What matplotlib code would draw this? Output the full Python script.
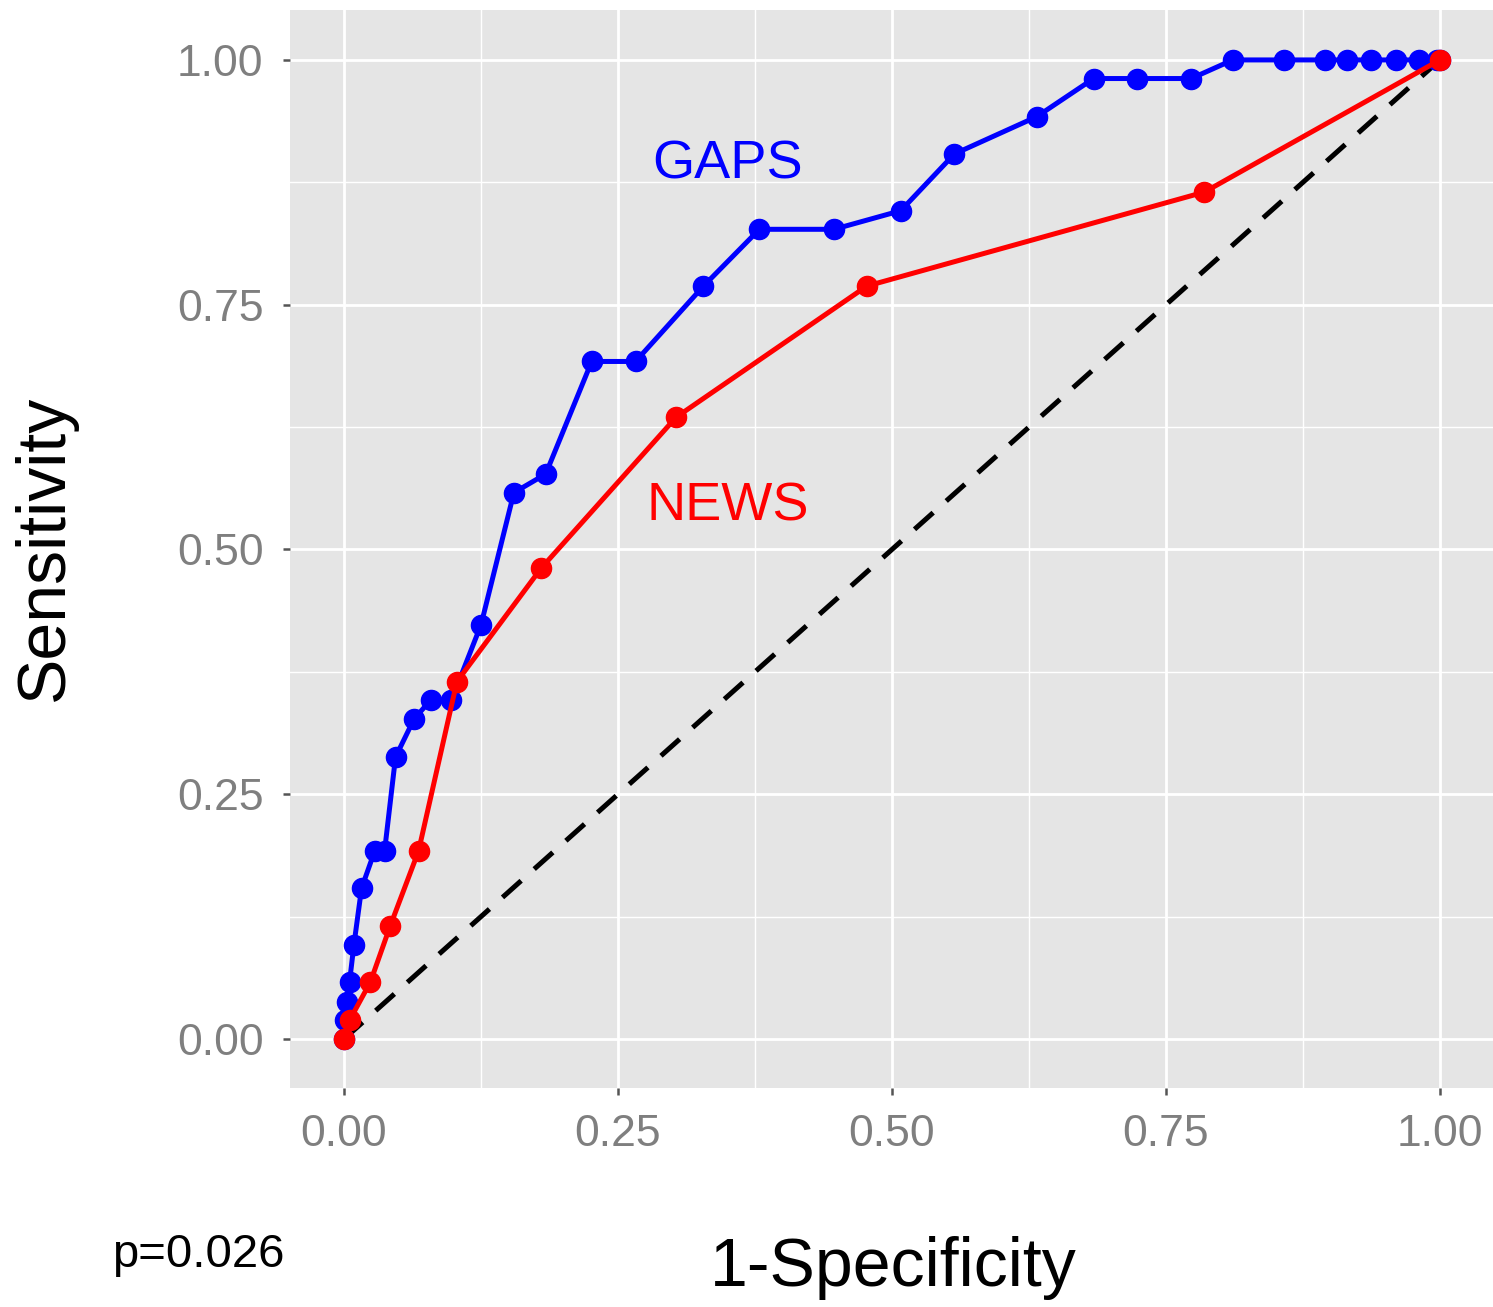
import matplotlib
matplotlib.use("Agg")
import matplotlib.pyplot as plt
import numpy as np

plt.rcParams['font.family'] = ['Liberation Sans', 'DejaVu Sans']

gaps_fpr = [0.0, 0.001, 0.003, 0.005, 0.009, 0.016, 0.028, 0.037, 0.047, 0.064, 0.079, 0.098,
            0.125, 0.155, 0.184, 0.226, 0.266, 0.328, 0.379, 0.447, 0.508, 0.557, 0.632,
            0.684, 0.724, 0.773, 0.811, 0.858, 0.895, 0.915, 0.937, 0.960, 0.981, 0.997, 1.0]
gaps_tpr = [0.0, 0.019, 0.038, 0.058, 0.096, 0.154, 0.192, 0.192, 0.288, 0.327, 0.346, 0.346,
            0.423, 0.558, 0.577, 0.692, 0.692, 0.769, 0.827, 0.827, 0.846, 0.904, 0.942,
            0.981, 0.981, 0.981, 1.0, 1.0, 1.0, 1.0, 1.0, 1.0, 1.0, 1.0, 1.0]
news_fpr = [0.0, 0.005, 0.024, 0.042, 0.068, 0.103, 0.180, 0.303, 0.477, 0.785, 1.0]
news_tpr = [0.0, 0.019, 0.058, 0.115, 0.192, 0.365, 0.481, 0.635, 0.769, 0.865, 1.0]
ticks = [0.0, 0.25, 0.5, 0.75, 1.0]
tick_labels = ["0.00", "0.25", "0.50", "0.75", "1.00"]

fig = plt.figure(figsize=(14.93, 13.07), dpi=100)
ax = fig.add_axes([290/1493, 1 - 1088/1307, (1493-290)/1493, (1088-10)/1307])
ax.set_facecolor('#E5E5E5')
ax.set_xlim(-0.0493, 1.0484)
ax.set_ylim(-0.0501, 1.0510)

ax.set_xticks(ticks)
ax.set_yticks(ticks)
ax.set_xticklabels(tick_labels)
ax.set_yticklabels(tick_labels)
ax.set_xticks([0.125, 0.375, 0.625, 0.875], minor=True)
ax.set_yticks([0.125, 0.375, 0.625, 0.875], minor=True)
ax.grid(which='major', color='white', linewidth=2.0)
ax.grid(which='minor', color='white', linewidth=1.0)
ax.set_axisbelow(True)
for s in ax.spines.values():
    s.set_visible(False)
ax.tick_params(which='major', length=5, width=1.8, color='#555555', labelsize=32,
               labelcolor='#7F7F7F')
ax.tick_params(axis='x', pad=14)
ax.tick_params(axis='y', pad=14)
ax.tick_params(which='minor', length=0)

ax.plot([0, 1], [0, 1], color='black', linestyle=(0, (5, 3.5)), linewidth=3.6, zorder=2)
ax.plot(gaps_fpr, gaps_tpr, color='#0000FF', linewidth=3.6, marker='o', markersize=14.5,
        zorder=3)
ax.plot(news_fpr, news_tpr, color='#FF0000', linewidth=3.6, marker='o', markersize=14.5,
        zorder=4)

ax.text(0.35, 0.893, "GAPS", color='#0000FF', fontsize=39, ha='center', va='center')
ax.text(0.35, 0.544, "NEWS", color='#FF0000', fontsize=39, ha='center', va='center')

fig.text(893/1493, 1 - 1268/1307, "1-Specificity", fontsize=49, ha='center', va='center')
fig.text(45/1493, 1 - 548/1307, "Sensitivity", fontsize=49, ha='center', va='center',
         rotation=90)
fig.text(112/1493, 1 - 1255/1307, "p=0.026", fontsize=34, ha='left', va='center')

fig.savefig("out.png", dpi=100)
